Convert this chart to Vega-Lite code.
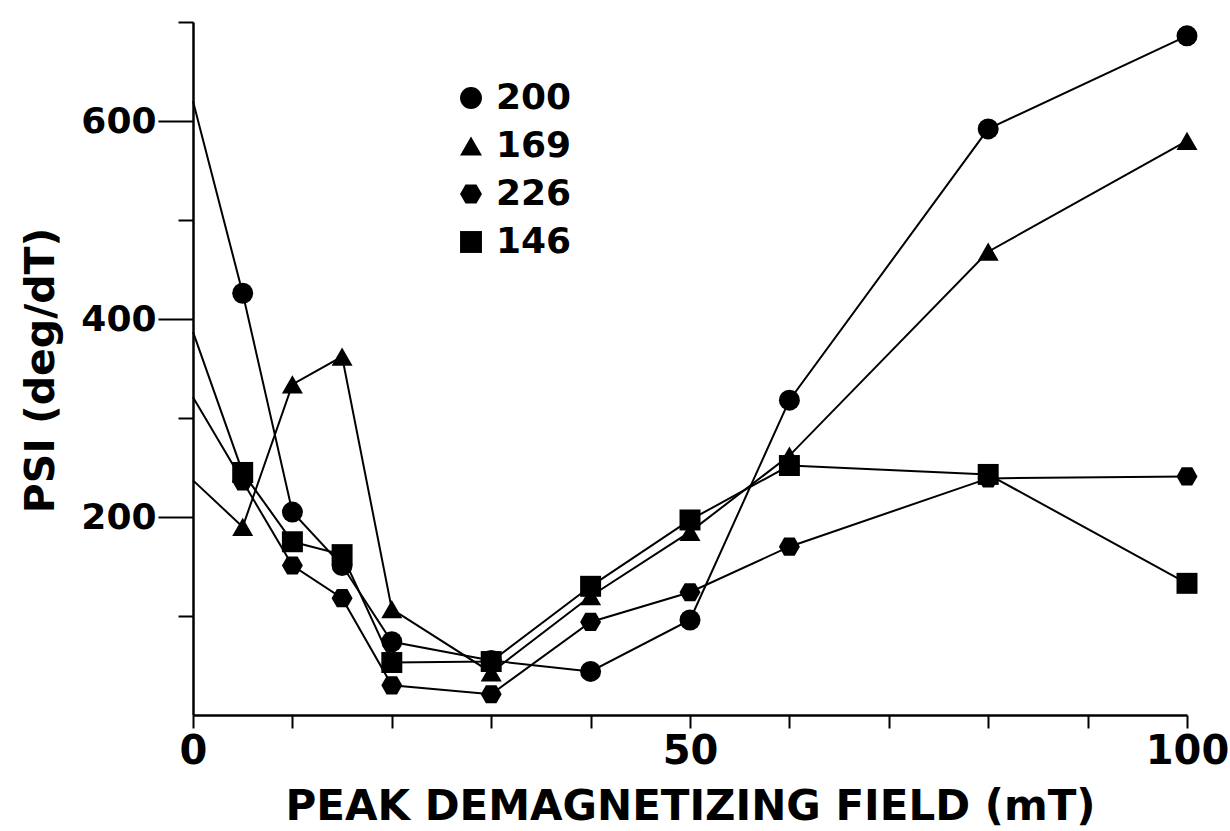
{
  "$schema": "https://vega.github.io/schema/vega-lite/v6.json",
  "width": 994,
  "height": 693,
  "autosize": {"type": "none"},
  "padding": {"left": 193, "top": 22, "right": 43, "bottom": 116},
  "background": "white",
  "config": {"view": {"stroke": null}, "font": "DejaVu Sans"},
  "data": {
    "values": [
      {"f": 0, "psi": 620, "s": "200"},
      {"f": 5, "psi": 426, "s": "200"},
      {"f": 10, "psi": 205, "s": "200"},
      {"f": 15, "psi": 151, "s": "200"},
      {"f": 20, "psi": 74, "s": "200"},
      {"f": 30, "psi": 55, "s": "200"},
      {"f": 40, "psi": 44, "s": "200"},
      {"f": 50, "psi": 96, "s": "200"},
      {"f": 60, "psi": 318, "s": "200"},
      {"f": 80, "psi": 592, "s": "200"},
      {"f": 100, "psi": 686, "s": "200"},
      {"f": 0, "psi": 237, "s": "169"},
      {"f": 5, "psi": 190, "s": "169"},
      {"f": 10, "psi": 334, "s": "169"},
      {"f": 15, "psi": 362, "s": "169"},
      {"f": 20, "psi": 107, "s": "169"},
      {"f": 30, "psi": 43, "s": "169"},
      {"f": 40, "psi": 120, "s": "169"},
      {"f": 50, "psi": 185, "s": "169"},
      {"f": 60, "psi": 262, "s": "169"},
      {"f": 80, "psi": 468, "s": "169"},
      {"f": 100, "psi": 580, "s": "169"},
      {"f": 0, "psi": 321, "s": "226"},
      {"f": 5, "psi": 236, "s": "226"},
      {"f": 10, "psi": 151, "s": "226"},
      {"f": 15, "psi": 118, "s": "226"},
      {"f": 20, "psi": 30, "s": "226"},
      {"f": 30, "psi": 21, "s": "226"},
      {"f": 40, "psi": 94, "s": "226"},
      {"f": 50, "psi": 124, "s": "226"},
      {"f": 60, "psi": 170, "s": "226"},
      {"f": 80, "psi": 239, "s": "226"},
      {"f": 100, "psi": 241, "s": "226"},
      {"f": 0, "psi": 387, "s": "146"},
      {"f": 5, "psi": 245, "s": "146"},
      {"f": 10, "psi": 175, "s": "146"},
      {"f": 15, "psi": 162, "s": "146"},
      {"f": 20, "psi": 53, "s": "146"},
      {"f": 30, "psi": 54, "s": "146"},
      {"f": 40, "psi": 130, "s": "146"},
      {"f": 50, "psi": 197, "s": "146"},
      {"f": 60, "psi": 252, "s": "146"},
      {"f": 80, "psi": 243, "s": "146"},
      {"f": 100, "psi": 133, "s": "146"}
    ]
  },
  "encoding": {
    "x": {
      "field": "f",
      "type": "quantitative",
      "scale": {"domain": [0, 100], "nice": false, "zero": false},
      "axis": {
        "title": "PEAK DEMAGNETIZING FIELD (mT)",
        "values": [0, 10, 20, 30, 40, 50, 60, 70, 80, 90, 100],
        "labelExpr": "datum.value % 50 == 0 ? datum.label : ''",
        "grid": false,
        "domainColor": "black",
        "domainWidth": 2.5,
        "tickColor": "black",
        "tickWidth": 2,
        "tickSize": 13,
        "labelColor": "black",
        "labelFontSize": 40,
        "labelFontWeight": "bold",
        "labelPadding": 3,
        "labelFlush": false,
        "labelOverlap": false,
        "titleColor": "black",
        "titleFontSize": 42,
        "titleFontWeight": "bold",
        "titleBaseline": "middle",
        "titleY": 91
      }
    },
    "y": {
      "field": "psi",
      "type": "quantitative",
      "scale": {"domain": [0, 700], "nice": false},
      "axis": {
        "title": "PSI (deg/dT)",
        "values": [100, 200, 300, 400, 500, 600, 700],
        "labelExpr": "datum.value % 200 == 0 ? datum.label : ''",
        "grid": false,
        "domainColor": "black",
        "domainWidth": 2.5,
        "tickColor": "black",
        "tickWidth": 2,
        "tickSize": {"expr": "datum.value % 200 == 0 ? 35 : 15"},
        "labelColor": "black",
        "labelFontSize": 36,
        "labelFontWeight": "bold",
        "labelPadding": 2,
        "labelOverlap": false,
        "titleColor": "black",
        "titleFontSize": 41,
        "titleFontWeight": "bold",
        "titleAlign": "center",
        "titleBaseline": "middle",
        "titleX": -152,
        "titleY": 348
      }
    }
  },
  "layer": [
    {
      "mark": {"type": "line", "color": "black", "strokeWidth": 2},
      "encoding": {"detail": {"field": "s"}}
    },
    {
      "transform": [{"filter": "datum.f > 0"}],
      "mark": {"type": "point", "filled": true, "color": "black", "opacity": 1, "size": 440},
      "encoding": {
        "shape": {
          "field": "s",
          "type": "nominal",
          "scale": {
            "domain": ["200", "169", "226", "146"],
            "range": ["circle", "triangle-up", "M-1,0L-0.5,-0.866L0.5,-0.866L1,0L0.5,0.866L-0.5,0.866Z", "square"]
          },
          "legend": {
            "orient": "none",
            "legendX": 260,
            "legendY": 58,
            "title": null,
            "labelFontSize": 36,
            "labelFontWeight": "bold",
            "labelColor": "black",
            "labelOffset": 7,
            "rowPadding": 12,
            "symbolSize": 480,
            "symbolType": "circle",
            "symbolFillColor": "black",
            "symbolStrokeColor": "black",
            "symbolStrokeWidth": 0,
            "symbolOpacity": 1
          }
        }
      }
    }
  ]
}
